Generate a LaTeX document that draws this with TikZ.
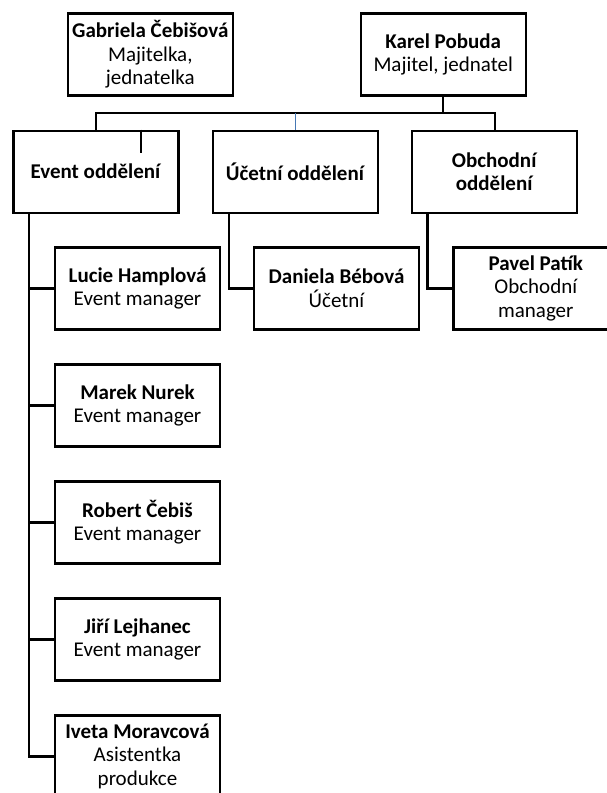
\documentclass[tikz,border=0pt]{standalone}
\usepackage{fontspec}
\setmainfont{Carlito}
\usetikzlibrary{calc}
\tikzset{
  box/.style={draw, line width=2.4pt, rectangle, minimum width=165pt, minimum height=82pt,
    inner sep=0pt, align=center, font=\fontsize{21}{23.5}\selectfont},
  conn/.style={draw, line width=2.4pt, line join=miter},
  blueconn/.style={draw=bluetick, line width=1.8pt}
}
\definecolor{bluetick}{RGB}{70,120,180}
\begin{document}
\begin{tikzpicture}[x=1pt,y=-1pt]
\useasboundingbox (0,0) rectangle (607,793);
\clip (0,0) rectangle (607,793);
\fill[white] (0,0) rectangle (607,793);
% top level
\node[box] (gab) at (150.3,54.5) {\textbf{Gabriela Čebišová}\\Majitelka,\\jednatelka};
\node[box] (karel) at (443.2,54.5) {\textbf{Karel Pobuda}\\Majitel, jednatel};
% departments
\node[box] (event) at (96,171.7) {\textbf{Event oddělení}};
\node[box] (ucet) at (295.5,171.7) {\textbf{Účetní oddělení}};
\node[box] (obch) at (494.7,171.7) {\textbf{Obchodní}\\\textbf{oddělení}};
% people
\node[box] (lucie) at (137.5,288.3) {\textbf{Lucie Hamplová}\\Event manager};
\node[box] (daniela) at (336.5,288.3) {\textbf{Daniela Bébová}\\Účetní};
\node[box] (pavel) at (535.8,288.3) {\textbf{Pavel Patík}\\Obchodní\\manager};
\node[box] (marek) at (137.5,405.5) {\textbf{Marek Nurek}\\Event manager};
\node[box] (robert) at (137.5,522.3) {\textbf{Robert Čebiš}\\Event manager};
\node[box] (jiri) at (137.5,639.3) {\textbf{Jiří Lejhanec}\\Event manager};
\node[box] (iveta) at (137.5,756.3) {\textbf{Iveta Moravcová}\\Asistentka\\produkce};
% bus
\coordinate (bus) at (96,113);
\draw[conn] (event.north) -- (event.north |- bus) -- (obch.north |- bus) -- (obch.north);
\draw[conn] (karel.south) -- (karel.south |- bus);
\draw[blueconn] (ucet.north |- bus) -- (ucet.north);
% stray tick inside event box
\coordinate (etick) at ($(event.north west)+(128.7,0)$);
\draw[conn] (etick) -- ++(0,23.5);
% event spine
\coordinate (espine) at ($(event.south west)+(16.7,0)$);
\draw[conn] (espine) |- (iveta.west);
\draw[conn] (espine |- lucie.west) -- (lucie.west);
\draw[conn] (espine |- marek.west) -- (marek.west);
\draw[conn] (espine |- robert.west) -- (robert.west);
\draw[conn] (espine |- jiri.west) -- (jiri.west);
% accounting
\coordinate (uspine) at ($(ucet.south west)+(17,0)$);
\draw[conn] (uspine) |- (daniela.west);
% sales
\coordinate (ospine) at ($(obch.south west)+(16.6,0)$);
\draw[conn] (ospine) |- (pavel.west);
\end{tikzpicture}
\end{document}
